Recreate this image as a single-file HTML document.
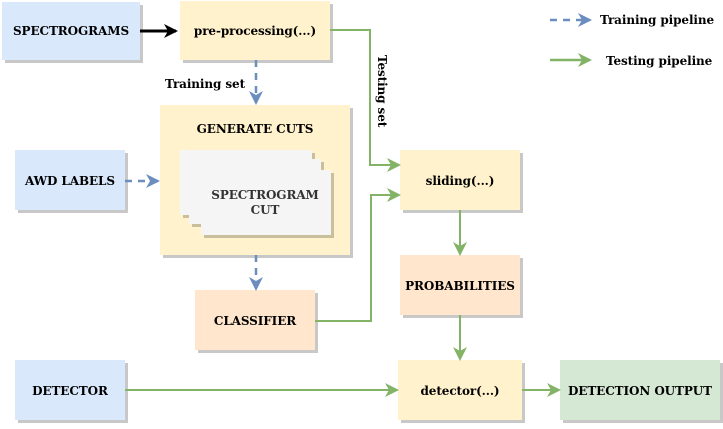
<!DOCTYPE html>
<html><head><meta charset="utf-8"><style>
body{margin:0;background:#fff}
text{font-family:"DejaVu Serif","Liberation Serif",serif;font-weight:bold;font-size:12px;fill:#000;letter-spacing:-0.1px}
</style></head><body>
<svg width="723" height="424" viewBox="0 0 723 424" xmlns="http://www.w3.org/2000/svg">
<defs>
<marker id="ab" markerWidth="14" markerHeight="14" refX="12" refY="7" orient="auto" markerUnits="userSpaceOnUse"><path d="M0,0 L14,7 L0,14 L4,7Z" fill="#000"/></marker>
<marker id="ag" markerWidth="14" markerHeight="14" refX="12" refY="7" orient="auto" markerUnits="userSpaceOnUse"><path d="M0,0 L14,7 L0,14 L4,7Z" fill="#82b366"/></marker>
<marker id="au" markerWidth="14" markerHeight="14" refX="12" refY="7" orient="auto" markerUnits="userSpaceOnUse"><path d="M0,0 L14,7 L0,14 L4,7Z" fill="#6c8ebf"/></marker>
</defs>
<g fill="#c8c8c8">
<rect x="5" y="5" width="138" height="58"/><rect x="183" y="4" width="150" height="59"/>
<rect x="163" y="108" width="190" height="150"/><rect x="18" y="153" width="110" height="60"/>
<rect x="198" y="293" width="120" height="60"/><rect x="403" y="153" width="120" height="60"/>
<rect x="403" y="258" width="120" height="60"/><rect x="401" y="363" width="124" height="60"/>
<rect x="18" y="363" width="110" height="60"/><rect x="563" y="363" width="160" height="60"/>
</g>
<rect x="2" y="2" width="138" height="58" fill="#dae8fc"/>
<rect x="180" y="1" width="150" height="59" fill="#fff2cc"/>
<rect x="160" y="105" width="190" height="150" fill="#fff2cc"/>
<rect x="15" y="150" width="110" height="60" fill="#dae8fc"/>
<rect x="195" y="290" width="120" height="60" fill="#ffe6cc"/>
<rect x="400" y="150" width="120" height="60" fill="#fff2cc"/>
<rect x="400" y="255" width="120" height="60" fill="#ffe6cc"/>
<rect x="398" y="360" width="124" height="60" fill="#fff2cc"/>
<rect x="15" y="360" width="110" height="60" fill="#dae8fc"/>
<rect x="560" y="360" width="160" height="60" fill="#d5e8d4"/>
<g fill="#c9bf9c">
<rect x="183" y="153" width="132" height="65"/><rect x="192" y="162" width="132" height="65"/><rect x="204" y="173" width="130" height="65"/>
</g>
<rect x="180" y="150" width="132" height="65" fill="#f5f5f5"/>
<rect x="189" y="159" width="132" height="65" fill="#f5f5f5"/>
<rect x="201" y="170" width="130" height="65" fill="#f5f5f5"/>
<g fill="none" stroke-width="2">
<path d="M140,31 H176" stroke="#000" stroke-width="3" marker-end="url(#ab)"/>
<path d="M256,60 V103" stroke="#6c8ebf" stroke-width="2.5" stroke-dasharray="7,6" marker-end="url(#au)"/>
<path d="M125,181 H158" stroke="#6c8ebf" stroke-width="2.5" stroke-dasharray="7,6" marker-end="url(#au)"/>
<path d="M256,255 V289" stroke="#6c8ebf" stroke-width="2.5" stroke-dasharray="7,6" marker-end="url(#au)"/>
<path d="M330,30 H370 V165 H399" stroke="#82b366" marker-end="url(#ag)"/>
<path d="M315,321 H371 V195 H399" stroke="#82b366" marker-end="url(#ag)"/>
<path d="M460,210 V254" stroke="#82b366" marker-end="url(#ag)"/>
<path d="M460,315 V359" stroke="#82b366" marker-end="url(#ag)"/>
<path d="M125,390 H397" stroke="#82b366" marker-end="url(#ag)"/>
<path d="M522,390 H559" stroke="#82b366" marker-end="url(#ag)"/>
<path d="M550,20 H590" stroke="#6c8ebf" stroke-width="2.5" stroke-dasharray="7,6" marker-end="url(#au)"/>
<path d="M550,60 H590" stroke="#82b366" stroke-width="2.5" marker-end="url(#ag)"/>
</g>
<g text-anchor="middle">
<text x="71" y="35">SPECTROGRAMS</text>
<text x="255" y="35">pre-processing(...)</text>
<text x="255" y="133">GENERATE CUTS</text>
<text x="265" y="199" style="fill:#333">SPECTROGRAM</text>
<text x="265" y="214" style="fill:#333">CUT</text>
<text x="70" y="185">AWD LABELS</text>
<text x="255" y="325">CLASSIFIER</text>
<text x="460" y="185">sliding(...)</text>
<text x="460" y="290">PROBABILITIES</text>
<text x="460" y="395">detector(...)</text>
<text x="70" y="395">DETECTOR</text>
<text x="640" y="395">DETECTION OUTPUT</text>
<text x="205" y="88">Training set</text>
</g>
<text x="600" y="24">Training pipeline</text>
<text x="606" y="65">Testing pipeline</text>
<text x="0" y="0" transform="translate(378,55) rotate(90)">Testing set</text>
</svg>
</body></html>
